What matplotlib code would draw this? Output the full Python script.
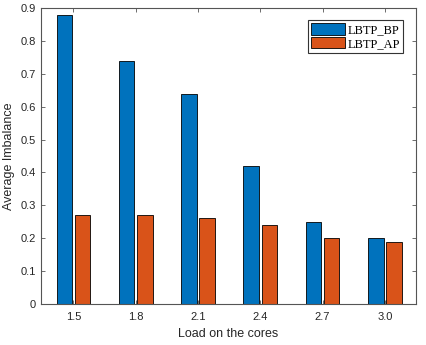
import matplotlib
matplotlib.use("Agg")
import matplotlib.pyplot as plt
import numpy as np

# Données
charges = ["1.5", "1.8", "2.1", "2.4", "2.7", "3.0"]
lbtp_bp = [0.88, 0.74, 0.64, 0.42, 0.25, 0.20]
lbtp_ap = [0.27, 0.27, 0.26, 0.24, 0.20, 0.19]

plt.rcParams['font.family'] = ['Liberation Sans', 'DejaVu Sans']

fig = plt.figure(figsize=(4.27, 3.45), dpi=100)
ax = fig.add_axes([41 / 427, 1 - 304 / 345, 375 / 427, 296 / 345])

x = np.arange(len(charges))
largeur = 0.25
ax.bar(x - 0.145, lbtp_bp, largeur, color='#0072BD', edgecolor='black',
       linewidth=0.6, label='LBTP_BP')
ax.bar(x + 0.145, lbtp_ap, largeur, color='#D95319', edgecolor='black',
       linewidth=0.6, label='LBTP_AP')

ax.set_xlim(-0.52, 5.5)
ax.set_ylim(0, 0.9)
ax.set_xticks(x)
ax.set_xticklabels(charges)
ax.set_yticks(np.arange(0, 0.91, 0.1))
ax.set_yticklabels(['0'] + [f"{v:.1f}" for v in np.arange(0.1, 0.91, 0.1)])

gris = '#262626'
for s in ax.spines.values():
    s.set_color('#555555')
    s.set_linewidth(0.8)
ax.tick_params(direction='in', top=True, right=True, length=3,
               labelsize=8, colors='#555555', labelcolor=gris, width=0.6)
ax.tick_params(axis='x', pad=6)

ax.set_xlabel('Load on the cores', fontsize=9, color=gris, labelpad=4)
ax.set_ylabel('Average Imbalance', fontsize=9, color=gris, labelpad=4)

leg = ax.legend(loc='upper right', prop={'family': 'Liberation Serif', 'size': 9},
                fancybox=False, framealpha=1, edgecolor='#333333',
                borderpad=0.25, handlelength=2.7, handleheight=1.05,
                handletextpad=0.2, labelspacing=0.05, borderaxespad=0,
                bbox_to_anchor=(0.965, 0.96))
leg.get_frame().set_linewidth(0.8)

fig.savefig('out.png', dpi=100)
